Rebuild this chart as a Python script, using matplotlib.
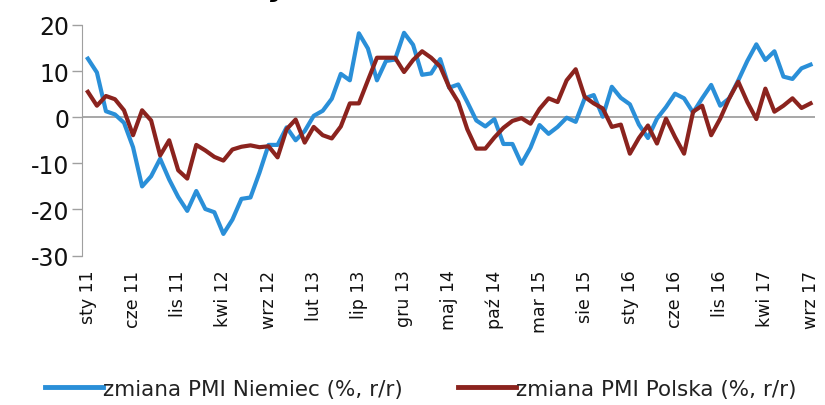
import matplotlib
matplotlib.use("Agg")
import matplotlib.pyplot as plt
import numpy as np

plt.rcParams['font.family'] = ['DejaVu Sans']
plt.rcParams['axes.unicode_minus'] = False

# miesieczne dane sty 2011 - wrz 2017
pmi_niemcy = [12.7, 9.7, 1.3, 0.6, -1.2, -6.5, -15.0, -12.8, -9.0, -13.5,
              -17.3, -20.3, -16.0, -19.9, -20.6, -25.3, -22.2, -17.7, -17.4, -12.0,
              -6.0, -6.0, -2.2, -5.0, -3.0, 0.3, 1.4, 4.0, 9.4, 8.0,
              18.2, 14.9, 8.0, 12.2, 12.5, 18.3, 15.7, 9.2, 9.5, 12.6,
              6.4, 7.1, 3.3, -0.7, -2.0, -0.4, -5.8, -5.8, -10.1, -6.6,
              -1.7, -3.6, -2.1, -0.1, -1.0, 4.1, 4.8, 0.1, 6.6, 4.2,
              2.8, -1.6, -4.5, -0.3, 2.2, 5.1, 4.1, 1.0, 4.1, 7.0,
              2.5, 4.1, 8.0, 12.2, 15.8, 12.4, 14.3, 8.8, 8.3, 10.6,
              11.4]
pmi_polska = [5.5, 2.5, 4.6, 3.9, 1.5, -3.9, 1.5, -0.7, -8.3, -5.0,
              -11.5, -13.3, -6.0, -7.2, -8.6, -9.4, -7.0, -6.4, -6.1, -6.5,
              -6.3, -8.7, -2.6, -0.5, -5.5, -2.1, -3.9, -4.6, -2.0, 3.0,
              3.0, 8.0, 12.9, 12.9, 12.9, 9.8, 12.4, 14.3, 12.9, 11.0,
              6.5, 3.3, -2.6, -6.8, -6.8, -4.4, -2.3, -0.8, -0.2, -1.4,
              1.8, 4.1, 3.3, 8.0, 10.4, 4.4, 3.0, 1.9, -2.1, -1.6,
              -7.9, -4.5, -1.8, -5.7, -0.3, -4.3, -7.9, 1.2, 2.5, -3.9,
              -0.3, 4.1, 7.7, 3.3, -0.4, 6.2, 1.2, 2.5, 4.1, 2.0,
              3.0]
tick_labels = ['sty 11', 'cze 11', 'lis 11', 'kwi 12', 'wrz 12', 'lut 13',
               'lip 13', 'gru 13', 'maj 14', 'paź 14', 'mar 15', 'sie 15',
               'sty 16', 'cze 16', 'lis 16', 'kwi 17', 'wrz 17']
tick_step = 5

blue = '#2a8fd8'
red = '#8b231e'

x = np.arange(len(pmi_niemcy))

fig = plt.figure(figsize=(8.25, 4.06), dpi=100)
ax = fig.add_axes([0.0994, 0.368, 0.888, 0.568])

ax.plot(x, pmi_niemcy, color=blue, lw=3, solid_joinstyle='round',
        label='zmiana PMI Niemiec (%, r/r)')
ax.plot(x, pmi_polska, color=red, lw=3, solid_joinstyle='round',
        label='zmiana PMI Polska (%, r/r)')
ax.axhline(0, color='#a0a0a0', lw=1.3, zorder=0)

ax.set_xlim(-0.65, 80.45)
ax.set_ylim(-30, 20)
ax.set_yticks([20, 10, 0, -10, -20, -30])
ax.set_xticks(x[::tick_step])
ax.set_xticklabels(tick_labels, rotation=90, fontsize=12.5, color='#111111')
ax.tick_params(axis='x', length=0, pad=10)
ax.tick_params(axis='y', direction='out', length=7, width=1, colors='#a0a0a0',
               labelcolor='#111111', labelsize=17, pad=2)

for s in ['top', 'right', 'bottom']:
    ax.spines[s].set_visible(False)
ax.spines['left'].set_color('#a0a0a0')

leg = fig.legend(loc='center', bbox_to_anchor=(0.51, 0.04), ncol=2, frameon=False,
                 fontsize=15.5, handlelength=2.7, handletextpad=0.0,
                 columnspacing=2.6)
for t in leg.get_texts():
    t.set_color('#222222')
for h in leg.get_lines():
    h.set_linewidth(3.5)

# obciety tytul na gorze
fig.text(0.338, 1.009, 'y', fontsize=20, fontweight='bold', ha='center',
         va='baseline', style='italic')

fig.savefig('out.png', dpi=100)
